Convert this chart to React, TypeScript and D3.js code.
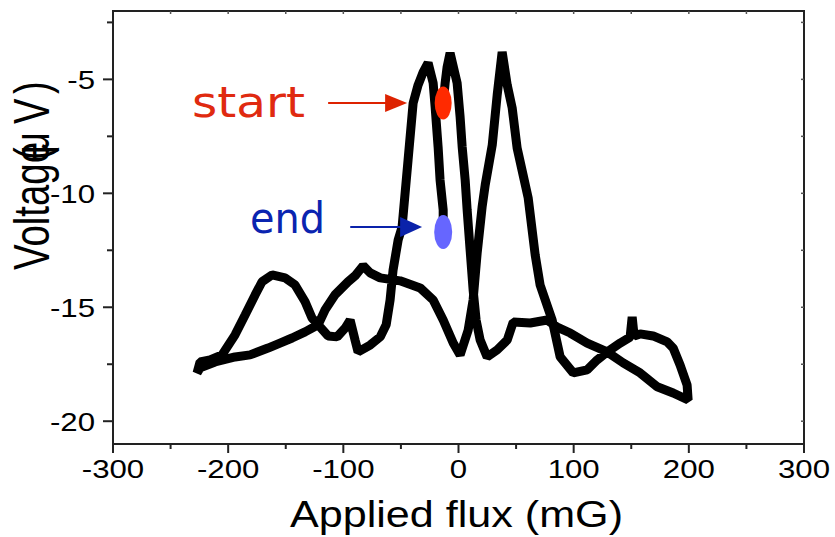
import React from "react";
import * as d3 from "d3";

// axis ticks
const xTicks = [-300, -200, -100, 0, 100, 200, 300];
const xMinor = [-250, -150, -50, 50, 150, 250];
const yTicks = [-5, -10, -15, -20];
const yMinor = [-2.5, -7.5, -12.5, -17.5];
const topTicks = [-250, -200, -150, -100, -50, 0, 50, 100, 150, 200, 250];
const rightTicks = [-2.5, -5, -7.5, -10, -12.5, -15, -17.5, -20];

// flux (mG), voltage (uV): sweep from start towards +200 mG
const sweepForward: [number, number][] = [
  [-13.3, -6.04], [-11.6, -5.16], [-9.9, -4.46], [-7.3, -3.84], [-1.2, -5.16],
  [1.4, -6.65], [3.2, -7.97], [5.8, -9.42], [7.5, -10.73], [10.1, -12.49],
  [12.7, -14.24], [15.3, -15.56], [18.8, -16.44], [24.9, -17.18], [33.6, -16.87],
  [42.3, -16.44], [47.5, -15.65], [62.3, -15.69], [77, -15.56], [85.7, -15.87],
  [97, -16.13], [111.7, -16.57], [129.1, -16.96], [143, -17.44], [157.7, -17.88],
  [172.5, -18.49], [186.4, -18.76], [199.4, -19.07],
];

// return sweep from +200 mG to -225 mG
const sweepReturn: [number, number][] = [
  [198.5, -18.41], [192.4, -17.53], [186.4, -16.79], [181.2, -16.52], [169, -16.26],
  [157.7, -16.17], [152.5, -16.26], [150.8, -15.43], [149, -16.31], [140.4, -16.57],
  [129.1, -16.96], [120.4, -17.31], [111.7, -17.75], [99.6, -17.88], [88.3, -17.18],
  [81.3, -15.56], [70.9, -14.03], [66.6, -12.71], [60.5, -10.2], [56.1, -9.2],
  [50.9, -8.01], [46.6, -6.25], [42.3, -5.25], [37.9, -3.8], [33.6, -5.68],
  [29.3, -7.88], [23.2, -9.63], [20.5, -10.6], [16.2, -12.62], [12.7, -14.68],
  [8.4, -16], [1.4, -17.09], [-4.6, -16.57], [-13.3, -15.56], [-22, -14.68],
  [-33.3, -14.15], [-50.7, -13.84], [-68, -13.71], [-76.7, -13.49], [-82.8, -13.18],
  [-89.8, -13.62], [-95.9, -13.88], [-107.2, -14.45], [-115.8, -15.11], [-121.9, -15.77],
  [-133.2, -16.08], [-144.5, -16.35], [-155, -16.57], [-165.4, -16.79], [-181, -17.09],
  [-194, -17.18], [-211.4, -17.4], [-224.4, -17.66], [-227, -17.88],
];

// final sweep back towards the end point
const sweepBack: [number, number][] = [
  [-224.4, -17.4], [-215.7, -17.31], [-205.3, -17.09], [-194, -16.21], [-185.3, -15.34],
  [-176.6, -14.46], [-170.6, -13.88], [-161.9, -13.58], [-150.6, -13.71], [-141.9, -14.02],
  [-133.2, -14.76], [-127.2, -15.47], [-121.9, -15.77], [-113.2, -16.26], [-105.4, -16.3],
  [-98.4, -15.91], [-94.1, -15.56], [-89.8, -16.44], [-87.2, -16.96], [-76.7, -16.66],
  [-68, -16.3], [-62.8, -15.77], [-59.4, -14.68], [-56.8, -13.36], [-52.4, -12.05],
  [-49, -11.48], [-43.8, -8.54], [-39.4, -6.04], [-35.1, -5.25], [-30.7, -4.68],
  [-26.4, -4.28], [-22, -5.16], [-20.3, -6.21], [-17.7, -7.97], [-16, -9.42],
  [-13.3, -10.73], [-13.3, -11.39],
];

const startPoint: [number, number] = [-13.3, -6.04];
const endPoint: [number, number] = [-13.3, -11.7];
const startLabel = "start";
const endLabel = "end";

export default function App() {
  const W = 835;
  const H = 537;
  const x = d3.scaleLinear().domain([-300, 300]).range([113, 804]);
  const y = d3.scaleLinear().domain([-21, -2]).range([444, 11]);
  const line = d3
    .line<[number, number]>()
    .x((d) => x(d[0]))
    .y((d) => y(d[1]));
  const trace = [...sweepForward, ...sweepReturn, ...sweepBack];
  const font = "'Liberation Sans', Arial, sans-serif";
  const x0 = x(-300), x1 = x(300), y0 = y(-21), y1 = y(-2);

  // annotation arrows (data coords)
  const redArrow = { from: -113.2, to: -44.6, v: startPoint[1] };
  const blueArrow = { from: -94, to: -31.6, v: -11.48 };

  const arrow = (a: { from: number; to: number; v: number }, color: string, hw: number, hl: number) => {
    const xs = x(a.from), xe = x(a.to), yy = y(a.v);
    return (
      <g>
        <line x1={xs} y1={yy} x2={xe - hl + 2} y2={yy} stroke={color} strokeWidth={2} />
        <polygon points={`${xe},${yy} ${xe - hl},${yy - hw} ${xe - hl},${yy + hw}`} fill={color} />
      </g>
    );
  };

  return (
    <svg width={W} height={H} style={{ position: "absolute", left: 0, top: 0, background: "#fff" }}>
      <rect x={0} y={0} width={W} height={H} fill="#fff" />
      {/* trace */}
      <path d={line(trace) || ""} fill="none" stroke="#000" strokeWidth={9} strokeLinejoin="bevel" strokeLinecap="square" />

      {/* frame */}
      <rect x={x0} y={y1} width={x1 - x0} height={y0 - y1} fill="none" stroke="#222" strokeWidth={2} />
      {/* bottom ticks */}
      {xTicks.map((t) => (
        <line key={"xt" + t} x1={x(t)} x2={x(t)} y1={y0} y2={y0 + 9} stroke="#222" strokeWidth={2} />
      ))}
      {xMinor.map((t) => (
        <line key={"xm" + t} x1={x(t)} x2={x(t)} y1={y0} y2={y0 + 5} stroke="#222" strokeWidth={2} />
      ))}
      {yTicks.map((t) => (
        <line key={"yt" + t} x1={x0 - 10} x2={x0} y1={y(t)} y2={y(t)} stroke="#222" strokeWidth={2} />
      ))}
      {yMinor.map((t) => (
        <line key={"ym" + t} x1={x0 - 6} x2={x0} y1={y(t)} y2={y(t)} stroke="#222" strokeWidth={2} />
      ))}
      {topTicks.map((t) => (
        <line key={"tt" + t} x1={x(t)} x2={x(t)} y1={y1} y2={y1 + 3} stroke="#555" strokeWidth={1.5} />
      ))}
      {rightTicks.map((t) => (
        <line key={"rt" + t} x1={x1 - 3} x2={x1} y1={y(t)} y2={y(t)} stroke="#555" strokeWidth={1.5} />
      ))}

      {/* tick labels */}
      {xTicks.map((t) => (
        <text
          key={"xl" + t}
          transform={`translate(${x(t)},478) scale(1.2,1)`}
          textAnchor="middle"
          fontFamily={font}
          fontSize={26}
          fill="#000"
        >
          {t}
        </text>
      ))}
      {yTicks.map((t) => (
        <text
          key={"yl" + t}
          transform={`translate(95,${y(t) + 9.5}) scale(1.2,1)`}
          textAnchor="end"
          fontFamily={font}
          fontSize={26}
          fill="#000"
        >
          {t}
        </text>
      ))}

      {/* axis titles */}
      <text x={290} y={527} fontFamily={font} fontSize={37} textLength={333} lengthAdjust="spacingAndGlyphs" fill="#000">
        Applied flux (mG)
      </text>
      <g transform="translate(49,270) rotate(-90) scale(1,1.3)" fontFamily={font} fontSize={38} fill="#000">
        <text x={0} y={0} textLength={128} lengthAdjust="spacingAndGlyphs">Voltage</text>
        <text x={110} y={0}>(</text>
        <text x={116} y={0}>μ</text>
        <text x={146} y={0}>V</text>
        <text x={176} y={0}>)</text>
      </g>

      {/* annotations */}
      {arrow(redArrow, "#dd2200", 9, 22)}
      {arrow(blueArrow, "#0a22aa", 10, 22)}
      <text x={x(-231.4)} y={y(-6.65)} fontFamily="'DejaVu Sans', sans-serif" fontSize={42} textLength={113} lengthAdjust="spacingAndGlyphs" fill="#e02a10">
        {startLabel}
      </text>
      <text x={x(-181)} y={y(-11.74)} fontFamily="'DejaVu Sans', sans-serif" fontSize={42} textLength={75} lengthAdjust="spacingAndGlyphs" fill="#0a24b0">
        {endLabel}
      </text>
      <ellipse cx={x(startPoint[0])} cy={y(startPoint[1])} rx={8.5} ry={16.5} fill="#ff2a00" />
      <ellipse cx={x(endPoint[0])} cy={y(endPoint[1])} rx={9} ry={17} fill="#6666ff" />
    </svg>
  );
}
